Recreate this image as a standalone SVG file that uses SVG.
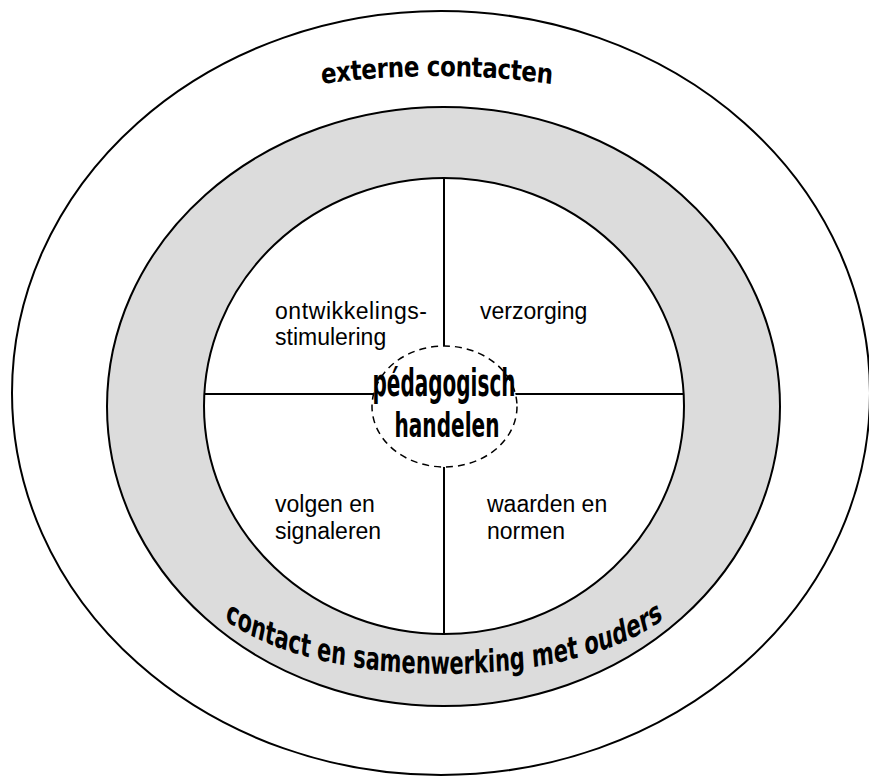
<svg xmlns="http://www.w3.org/2000/svg" width="869" height="776" viewBox="0 0 869 776">
<style>
.ring{stroke:#000;stroke-width:2}
.line{stroke:#000;stroke-width:2;fill:none}
.lbl{font-family:"Liberation Sans",Arial,sans-serif;font-size:23px;fill:#000}
.arc{font-family:"DejaVu Sans",Verdana,sans-serif;font-weight:bold;fill:#000}
.ctr{font-family:"DejaVu Sans",Verdana,sans-serif;font-weight:bold;fill:#000;text-anchor:middle}
</style>
<defs>
<path id="topArc" d="M 137 109.9 A 990 990 0 0 1 737 109.9" fill="none"/>
<path id="botArc" d="M 194 379.3 A 250 70 0 0 0 694 379.3" fill="none"/>
</defs>
<rect width="869" height="776" fill="#fff"/>
<g id="outer">
<ellipse class="ring" cx="441" cy="393" rx="429" ry="382" fill="#fff"/>
<text class="arc" font-size="23" transform="scale(1,1.2)"><textPath href="#topArc" startOffset="50%" text-anchor="middle" textLength="231">externe contacten</textPath></text>
</g>
<g id="ouders">
<ellipse class="ring" cx="443.5" cy="406.5" rx="336.5" ry="299.5" fill="#dcdcdc"/>
</g>
<g id="inner">
<ellipse class="ring" cx="444" cy="406" rx="240" ry="228" fill="#fff"/>
</g>
<g id="connectors">
<line class="line" x1="444" y1="178" x2="444" y2="634"/>
<line class="line" x1="204" y1="394" x2="684" y2="394"/>
</g>
<g id="ouders-label">
<text class="arc" font-size="21" transform="scale(1,1.5)"><textPath href="#botArc" startOffset="50%" text-anchor="middle">contact en samenwerking met ouders</textPath></text>
</g>
<g id="ontwikkeling">
<text class="lbl" x="275" y="319" textLength="152">ontwikkelings-</text>
<text class="lbl" x="275" y="345">stimulering</text>
</g>
<g id="verzorging">
<text class="lbl" x="480" y="319">verzorging</text>
</g>
<g id="volgen">
<text class="lbl" x="275" y="512">volgen en</text>
<text class="lbl" x="275" y="539">signaleren</text>
</g>
<g id="waarden">
<text class="lbl" x="487" y="512">waarden en</text>
<text class="lbl" x="487" y="539">normen</text>
</g>
<g id="center">
<ellipse cx="444.5" cy="406.5" rx="72.5" ry="60.5" fill="#fff" stroke="#000" stroke-width="1.5" stroke-dasharray="7,5"/>
<text class="ctr" x="444" y="396" font-size="37" textLength="143" lengthAdjust="spacingAndGlyphs">pédagogisch</text>
<text class="ctr" x="447" y="437" font-size="33" textLength="105" lengthAdjust="spacingAndGlyphs">handelen</text>
</g>
</svg>
